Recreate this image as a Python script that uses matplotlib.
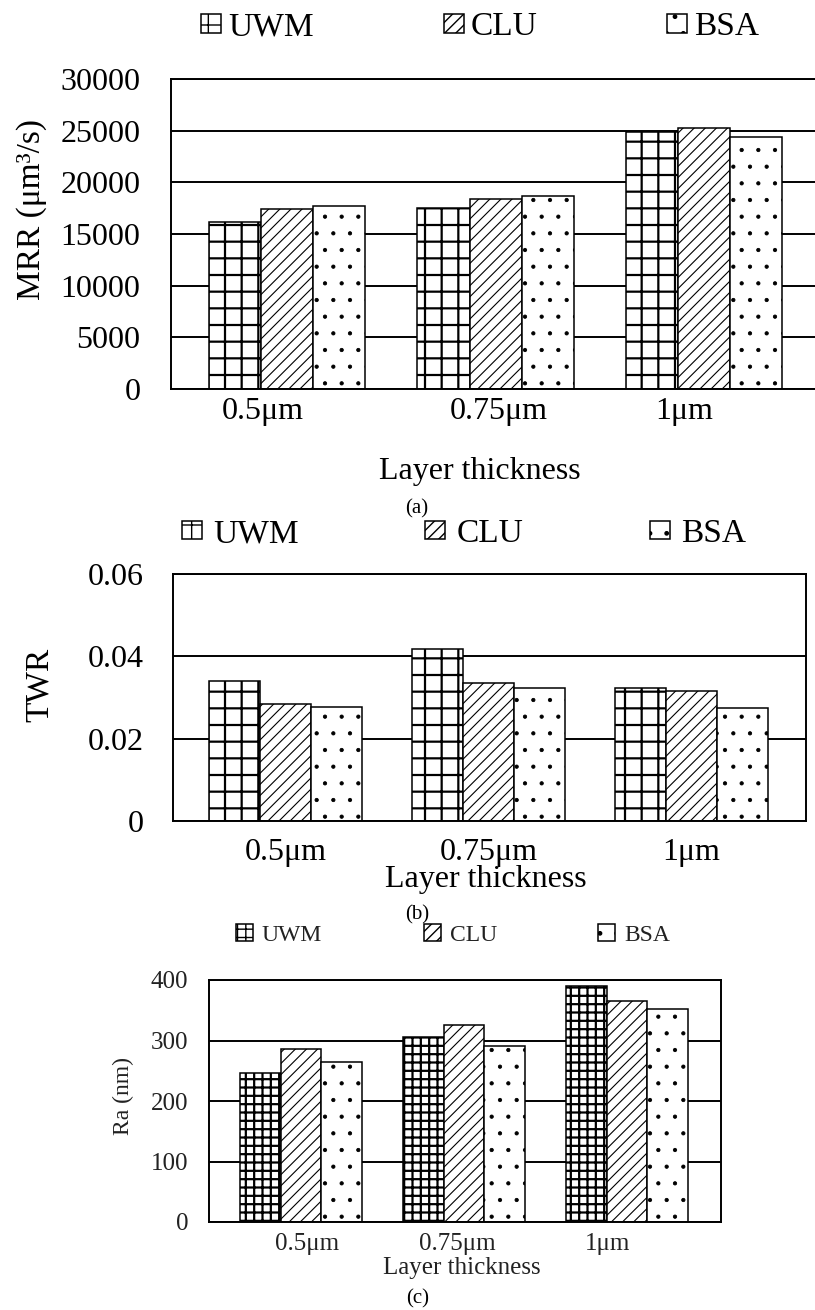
import numpy as np
import matplotlib
matplotlib.use('Agg')
import matplotlib.pyplot as plt
from matplotlib.transforms import ScaledTranslation

categories = ['0.5μm', '0.75μm', '1μm']
series = ['UWM', 'CLU', 'BSA']

# (a) material removal rate
mrr_uwm = [16200, 17500, 24900]
mrr_clu = [17400, 18400, 25300]
mrr_bsa = [17700, 18700, 24400]

# (b) tool wear rate
twr_uwm = [0.0341, 0.0417, 0.0323]
twr_clu = [0.0285, 0.0336, 0.0315]
twr_bsa = [0.0277, 0.0323, 0.0275]

# (c) surface roughness
ra_uwm = [246, 305, 390]
ra_clu = [286, 326, 366]
ra_bsa = [264, 291, 352]

plt.rcParams['font.family'] = ['Liberation Serif', 'DejaVu Serif']

W, H = 815, 1310
fig = plt.figure(figsize=(W / 100, H / 100), dpi=100)

hatch_lw = [1.6, 0.8, 0.6]


def box(left, top, right, bottom):
    return [left / W, 1 - bottom / H, (right - left) / W, (bottom - top) / H]


def fpt(x, y):
    return (x / W, 1 - y / H)


def panel(rect, vals, ylim, yticks, yticklabels, xlim, hatches, fs, color,
          ypad, xpad, xoffsets, ylabel, ylab_xy, ylab_fs, xlab_xy, leg):
    ax = fig.add_axes(box(*rect))
    x = np.arange(len(categories))
    w = 0.25
    for j, (name, v, h) in enumerate(zip(series, vals, hatches)):
        with plt.rc_context({'hatch.linewidth': hatch_lw[j]}):
            bars = ax.bar(x + (j - 1) * w, v, w, color='white', edgecolor='black',
                          hatch=h, linewidth=1.1, label=name, zorder=2)
        for b in bars:
            if hasattr(b, 'set_hatch_linewidth'):
                b.set_hatch_linewidth(hatch_lw[j])
    ax.set_xlim(*xlim)
    ax.set_ylim(*ylim)
    ax.set_yticks(yticks)
    ax.set_yticklabels(yticklabels)
    ax.set_xticks(x)
    ax.set_xticklabels(categories)
    ax.tick_params(axis='y', length=0, pad=ypad, labelsize=fs, labelcolor=color)
    ax.tick_params(axis='x', length=0, pad=xpad, labelsize=fs, labelcolor=color)
    for lab, dx in zip(ax.get_xticklabels(), xoffsets):
        lab.set_transform(lab.get_transform() + ScaledTranslation(dx / 100, 0, fig.dpi_scale_trans))
    ax.yaxis.grid(True, color='black', linewidth=1.4)
    ax.set_axisbelow(True)
    for s in ax.spines.values():
        s.set_linewidth(1.4)
        s.set_color('black')

    ax.set_ylabel(ylabel, fontsize=ylab_fs, color=color, va='center')
    ax.yaxis.set_label_coords(*fpt(*ylab_xy), transform=fig.transFigure)
    ax.set_xlabel('Layer thickness', fontsize=fs, color=color, va='center')
    ax.xaxis.set_label_coords(*fpt(*xlab_xy), transform=fig.transFigure)

    lx, ly, lfs, hl, hh, htp, cs = leg
    ax.legend(ncol=3, loc='center', bbox_to_anchor=fpt(lx, ly),
              bbox_transform=fig.transFigure, frameon=False, fontsize=lfs,
              labelcolor=color, handlelength=hl, handleheight=hh,
              handletextpad=htp, columnspacing=cs, borderpad=0, borderaxespad=0)
    return ax


panel((171, 79, 821, 389), [mrr_uwm, mrr_clu, mrr_bsa],
      (0, 30000), np.arange(0, 30001, 5000),
      [str(v) for v in range(0, 30001, 5000)],
      (-0.556, 2.56), ['+', '///', '.'], 23, 'black',
      22, 6, [-24, 3, -20],
      'MRR (μm³/s)', (32, 210), 24, (480, 472),
      (480, 27, 24, 0.6, 0.5, 0.2, 3.9))

panel((173, 574, 806, 821), [twr_uwm, twr_clu, twr_bsa],
      (0, 0.06), [0, 0.02, 0.04, 0.06], ['0', '0.02', '0.04', '0.06'],
      (-0.554, 2.564), ['+', '///', '.'], 23, 'black',
      21, 12, [0, 0, 0],
      'TWR', (40, 685), 24, (486, 880),
      (464, 534, 24, 0.6, 0.45, 0.33, 3.8))

panel((209, 980, 721, 1222), [ra_uwm, ra_clu, ra_bsa],
      (0, 400), [0, 100, 200, 300, 400], ['0', '100', '200', '300', '400'],
      (-0.564, 2.577), ['++', '///', '.'], 18, '#222222',
      15, 8, [6, -7, -19],
      'Ra (nm)', (123, 1096), 17, (462, 1268),
      (453, 935, 17, 0.72, 0.7, 0.38, 4.3))

for letter, xy in [('(a)', (417, 509)), ('(b)', (417, 915)), ('(c)', (418, 1299))]:
    fig.text(*fpt(*xy), letter, fontsize=15, ha='center', va='center')

fig.savefig('out.png', dpi=100)
